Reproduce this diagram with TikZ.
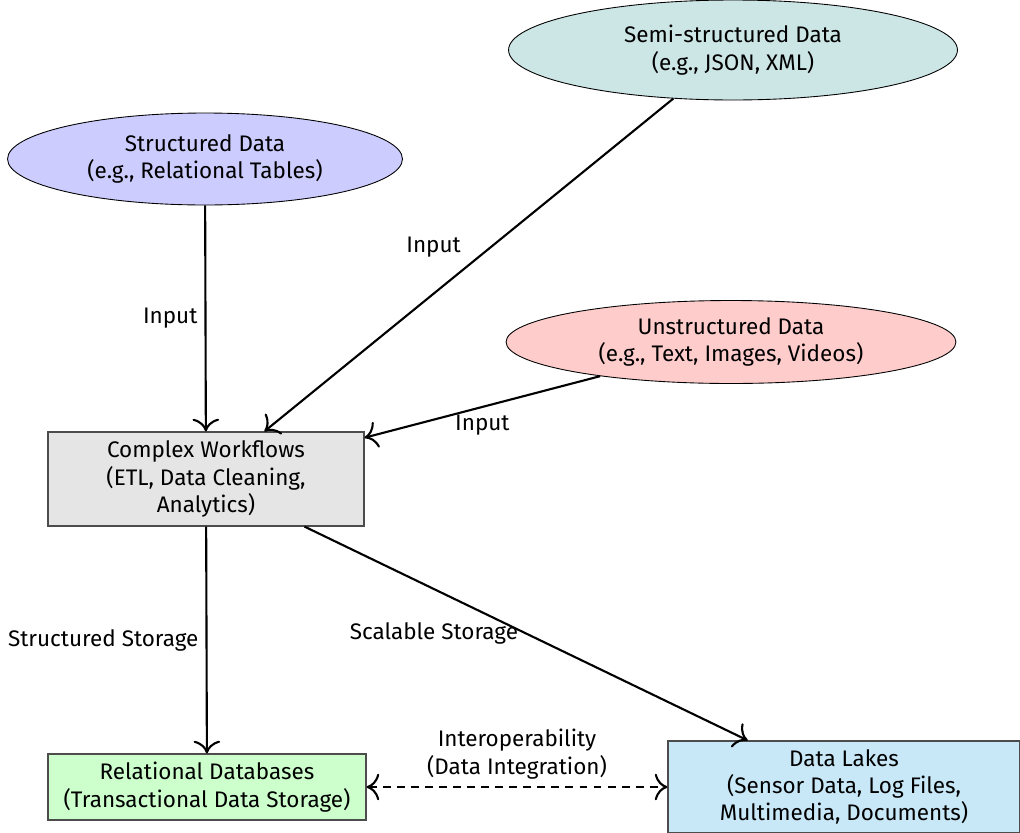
\documentclass[tikz,border=0pt]{standalone}
\usepackage{fontspec}
\setmainfont{Fira Sans}
\usetikzlibrary{shapes.geometric, arrows.meta}

\definecolor{structfill}{RGB}{204,204,255}
\definecolor{semifill}{RGB}{204,229,229}
\definecolor{unstructfill}{RGB}{255,204,204}
\definecolor{workfill}{RGB}{229,229,229}
\definecolor{relfill}{RGB}{204,255,204}
\definecolor{lakefill}{RGB}{200,232,248}

\tikzset{
  source/.style={ellipse, draw=black, line width=0.5pt, align=center, inner sep=0pt},
  store/.style={rectangle, draw=black!70, line width=0.7pt, align=center, inner sep=0pt},
  flow/.style={-{To[scale=1.7]}, line width=1.2pt},
  both/.style={{To[scale=1.7]}-{To[scale=1.7]}, line width=1.2pt, dash pattern=on 4.5pt off 3.5pt},
  lbl/.style={inner sep=4pt}
}

\begin{document}
\begin{tikzpicture}[x=0.02cm, y=-0.02cm, font=\fontsize{12.8}{15.6}\selectfont]
\useasboundingbox (0,0) rectangle (1020,832);

% data sources
\node[source, fill=structfill, minimum width=7.9cm, minimum height=1.84cm]
  (sd) at (205,159) {Structured Data\\(e.g., Relational Tables)};
\node[source, fill=semifill, minimum width=8.98cm, minimum height=2.0cm]
  (ss) at (733,50) {Semi-structured Data\\(e.g., JSON, XML)};
\node[source, fill=unstructfill, minimum width=9.0cm, minimum height=1.66cm]
  (us) at (731,342) {Unstructured Data\\(e.g., Text, Images, Videos)};

% processing
\node[store, fill=workfill, minimum width=6.32cm, minimum height=1.88cm]
  (cw) at (206,479) {Complex Workflows\\(ETL, Data Cleaning,\\Analytics)};

% storage targets
\node[store, fill=relfill, minimum width=6.36cm, minimum height=1.32cm]
  (rd) at (207,787) {Relational Databases\\(Transactional Data Storage)};
\node[store, fill=lakefill, minimum width=7.04cm, minimum height=1.84cm]
  (dl) at (844,787) {Data Lakes\\(Sensor Data, Log Files,\\Multimedia, Documents)};

% inputs
\draw[flow] (sd) -- node[lbl, midway, left] {Input} (cw);
\draw[flow] (ss) -- node[lbl, midway, above left] {Input} (cw);
\draw[flow] (us) -- node[lbl, midway, below] {Input} (cw);

% outputs
\draw[flow] (cw) -- node[lbl, midway, left] {Structured Storage} (rd);
\draw[flow] (cw) -- node[lbl, midway, left] {Scalable Storage} (dl);

% exchange between stores
\draw[both] (rd) -- node[lbl, midway, above, align=center]
  {Interoperability\\(Data Integration)} (dl);
\end{tikzpicture}
\end{document}
